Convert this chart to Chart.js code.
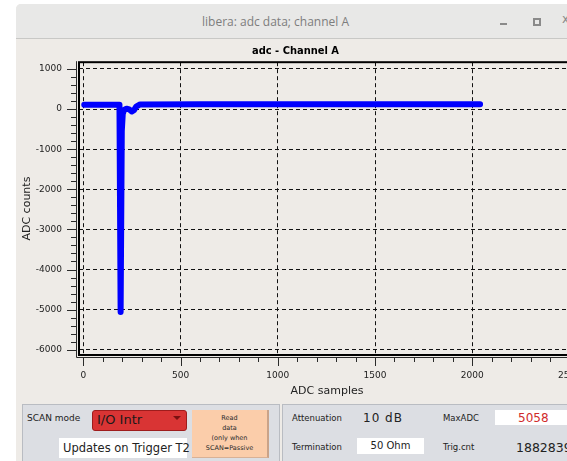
<!DOCTYPE html>
<html>
<head>
<meta charset="utf-8">
<script src="https://cdn.jsdelivr.net/npm/chart.js@4"></script>
<style>
  html,body{margin:0;padding:0;width:567px;height:461px;overflow:hidden;background:#fff;font-family:"DejaVu Sans",sans-serif;}
  .abs{position:absolute;white-space:nowrap;}
  #win{position:absolute;left:16px;top:4px;width:620px;height:520px;background:#eeebe7;border-top-left-radius:5px;overflow:hidden;}
  #titlebar{position:absolute;left:0;top:0;width:100%;height:34px;background:#e8e8e7;border-bottom:1px solid #c8c8c6;}
  #wtitle{left:186px;top:9px;font-size:12px;color:#7d7d7d;font-family:"Open Sans","DejaVu Sans",sans-serif;}
  #chartBox{position:absolute;left:16px;top:39px;width:566px;height:360px;}
  .panel{position:absolute;top:404px;height:80px;background:#dcdee3;border:1px solid #b9bcc2;}
  .lbl{font-size:9px;color:#222;}
  .wbox{position:absolute;background:#fff;}
</style>
</head>
<body>
<div id="win">
  <div id="titlebar">
    <div class="abs" id="wtitle">libera: adc data; channel A</div>
    <div class="abs" style="left:484px;top:19px;width:7px;height:2px;background:#8a8a8a;"></div>
    <div class="abs" style="left:517px;top:14px;width:4px;height:4px;border:2px solid #8a8a8a;"></div>
    <div class="abs" style="left:546px;top:8px;font-size:12px;color:#8a8a8a;">x</div>
  </div>
</div>
<div id="chartBox"><canvas id="adcChart" width="566" height="360"></canvas></div>

<!-- bottom control panels -->
<div class="panel" style="left:22px;width:256px;"></div>
<div class="panel" style="left:282px;width:300px;"></div>

<div class="abs lbl" style="left:27px;top:413px;">SCAN mode</div>
<div class="abs" style="left:92px;top:410px;width:93px;height:19px;background:#d93434;border:1px solid #9e1c1c;border-radius:3px;"></div>
<div class="abs" style="left:97px;top:412px;font-size:13px;color:#1a1a1a;">I/O Intr</div>
<div class="abs" style="left:173px;top:416px;width:0;height:0;border-left:4px solid transparent;border-right:4px solid transparent;border-top:4px solid #7a1010;"></div>
<div class="abs" style="left:192px;top:410px;width:75px;height:47px;background:#fbcdaa;border-right:2px solid #c9a389;border-bottom:1px solid #d8b196;"></div>
<div class="abs" style="left:192px;top:413px;width:75px;text-align:center;font-size:6.5px;line-height:10px;color:#2a2a2a;white-space:normal;">Read<br>data<br>(only when<br>SCAN=Passive</div>
<div class="wbox" style="left:59px;top:438px;width:128px;height:20px;"></div>
<div class="abs" style="left:63px;top:441px;font-size:11.5px;color:#222;">Updates on Trigger T2</div>

<div class="abs lbl" style="left:292px;top:413px;font-size:8.5px;">Attenuation</div>
<div class="abs" style="left:363px;top:411px;font-size:12px;color:#222;letter-spacing:1px;">10 dB</div>
<div class="abs lbl" style="left:443px;top:413px;font-size:8.5px;">MaxADC</div>
<div class="wbox" style="left:495px;top:410px;width:90px;height:15px;"></div>
<div class="abs" style="left:518px;top:411px;font-size:12px;color:#d12b2b;">5058</div>
<div class="abs lbl" style="left:292px;top:442px;font-size:8.5px;">Termination</div>
<div class="wbox" style="left:357px;top:438px;width:67px;height:16px;"></div>
<div class="abs" style="left:357px;top:440px;width:67px;text-align:center;font-size:10px;color:#222;">50 Ohm</div>
<div class="abs lbl" style="left:443px;top:442px;font-size:8.5px;">Trig.cnt</div>
<div class="abs" style="left:516px;top:440px;font-size:12.5px;color:#222;">1882839</div>

<script>
// ─── Data ────────────────────────────────────────────────────────────────────
const sampleIndex = [5, 100, 186, 192, 198, 203, 210, 222, 236, 250, 260, 272, 292, 600, 1000, 1500, 2040];
const adcCounts   = [110, 110, 110, -5058, -550, -120, -20, 10, -10, -60, -30, 60, 115, 120, 120, 120, 120];

const xMajorTicks = [0, 500, 1000, 1500, 2000, 2500];
const yMajorTicks = [1000, 0, -1000, -2000, -3000, -4000, -5000, -6000];
const xRange = [-22, 2528];
const yRange = [-6131, 1168];

// ─── Frame + offset axes with major/minor ticks ─────────────────────────────
const frameAxes = {
  id: 'frameAxes',
  afterDraw(chart) {
    const { ctx, chartArea: a, scales: { x, y } } = chart;
    ctx.save();
    ctx.strokeStyle = '#000';
    ctx.lineWidth = 2;
    ctx.strokeRect(a.left, a.top, a.right - a.left, a.bottom - a.top);

    ctx.lineWidth = 1;
    ctx.strokeStyle = '#2a2a2a';
    ctx.beginPath();
    ctx.moveTo(a.left - 2.5, a.top - 1);
    ctx.lineTo(a.left - 2.5, a.bottom + 2.5);
    ctx.lineTo(a.right + 1, a.bottom + 2.5);
    ctx.stroke();

    ctx.beginPath();
    x.ticks.forEach(t => {
      const px = Math.round(x.getPixelForValue(t.value)) + 0.5;
      const len = xMajorTicks.includes(t.value) ? 11 : 7;
      ctx.moveTo(px, a.bottom + 3);
      ctx.lineTo(px, a.bottom + len);
    });
    y.ticks.forEach(t => {
      const py = Math.round(y.getPixelForValue(t.value)) + 0.5;
      const len = yMajorTicks.includes(t.value) ? 12 : 8;
      ctx.moveTo(a.left - 3, py);
      ctx.lineTo(a.left - len, py);
    });
    ctx.stroke();
    ctx.restore();
  }
};

const gridColor = ctx => {
  if (!ctx.tick || !ctx.scale) return 'rgba(0,0,0,0)';
  const majors = ctx.scale.axis === 'x' ? xMajorTicks : yMajorTicks;
  return majors.includes(ctx.tick.value) ? '#111' : 'rgba(0,0,0,0)';
};

const tickFont = { family: 'DejaVu Sans', size: 9 };

new Chart(document.getElementById('adcChart'), {
  type: 'scatter',
  data: {
    datasets: [{
      label: 'adc',
      data: sampleIndex.map((s, i) => ({ x: s, y: adcCounts[i] })),
      showLine: true,
      borderColor: '#0000ff',
      backgroundColor: '#0000ff',
      borderWidth: 6,
      borderCapStyle: 'round',
      borderJoinStyle: 'round',
      pointRadius: 0,
      tension: 0,
    }],
  },
  options: {
    responsive: false,
    animation: false,
    devicePixelRatio: 1,
    layout: { padding: { left: 0, right: 7, top: 0, bottom: 0 } },
    plugins: {
      legend: { display: false },
      tooltip: { enabled: false },
      title: {
        display: true,
        text: 'adc - Channel A',
        color: '#000',
        font: { family: "'Liberation Sans Narrow', 'DejaVu Sans Condensed', sans-serif", size: 11, weight: 'bold' },
        padding: { top: 6, bottom: 4 },
      },
    },
    scales: {
      x: {
        type: 'linear',
        min: xRange[0],
        max: xRange[1],
        afterFit: s => { s.height = 44; s.paddingLeft = 0; s.paddingRight = 0; },
        grid: { color: gridColor, lineWidth: 1, drawTicks: false },
        border: { display: false, dash: [4, 3] },
        ticks: {
          stepSize: 100,
          includeBounds: false,
          autoSkip: false,
          maxRotation: 0,
          padding: 15,
          color: '#222',
          font: tickFont,
          callback: v => (xMajorTicks.includes(v) ? String(v) : ''),
        },
        title: { display: true, text: 'ADC samples', color: '#222', font: { family: 'DejaVu Sans', size: 11 }, padding: { top: 0, bottom: 1 } },
      },
      y: {
        type: 'linear',
        min: yRange[0],
        max: yRange[1],
        afterFit: s => { s.width = 63; s.paddingTop = 0; s.paddingBottom = 0; },
        grid: { color: gridColor, lineWidth: 1, drawTicks: false },
        border: { display: false, dash: [4, 3] },
        ticks: {
          stepSize: 200,
          includeBounds: false,
          autoSkip: false,
          padding: 17,
          color: '#222',
          font: tickFont,
          callback: v => (yMajorTicks.includes(v) ? String(v) : ''),
        },
        title: { display: true, text: 'ADC counts', color: '#222', font: { family: 'DejaVu Sans', size: 11 }, padding: { top: 5, bottom: 0 } },
      },
    },
  },
  plugins: [frameAxes],
});
</script>
</body>
</html>
